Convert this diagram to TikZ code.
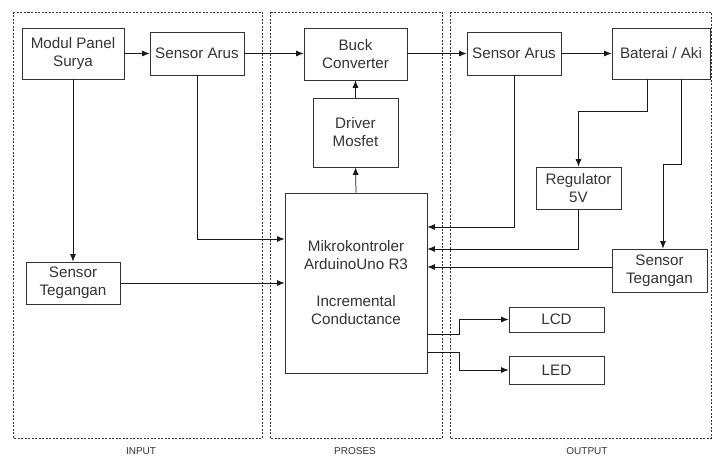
\documentclass[tikz,border=0pt]{standalone}
\usepackage{fontspec}
\setmainfont{Liberation Sans}
\usetikzlibrary{arrows.meta}
\definecolor{ink}{HTML}{333333}
\tikzset{
  box/.style={draw=ink, line width=0.8pt, text=ink, align=center, inner sep=1pt,
    font=\fontsize{15.2}{18}\selectfont, anchor=center},
  arr/.style={draw=black!90, line width=0.75pt, -{Latex[length=7.5pt,width=6pt]}},
  grp/.style={draw=black!80, line width=0.7pt, dash pattern=on 2pt off 1.5pt},
  glabel/.style={text=ink, font=\fontsize{10}{12}\selectfont}
}
\begin{document}
\begin{tikzpicture}[x=1pt,y=-1pt]
\useasboundingbox (0,0) rectangle (712,457);
% group frames
\draw[grp] (13,12) rectangle (262,438);
\draw[grp] (270,12) rectangle (442,438);
\draw[grp] (450,12) rectangle (711,438);
\node[glabel] (lin) at (141,451) {INPUT};
\node[glabel] (lpr) at (355,451) {PROSES};
\node[glabel] (lout) at (587,451) {OUTPUT};
% nodes
\node[box, minimum width=102pt, minimum height=51pt] (pv) at (73,53.5) {Modul Panel\\Surya};
\node[box, minimum width=94pt, minimum height=43pt] (sa1) at (197,53.5) {Sensor Arus};
\node[box, minimum width=103pt, minimum height=52pt] (buck) at (355.5,54) {Buck\\Converter};
\node[box, minimum width=85pt, minimum height=69pt] (drv) at (355.5,132.5) {Driver\\Mosfet};
\node[box, minimum width=142pt, minimum height=180pt] (mcu) at (356,283) {Mikrokontroler\\ArduinoUno R3\\[19pt]Incremental\\Conductance};
\node[box, minimum width=94pt, minimum height=43pt] (sa2) at (514,53.5) {Sensor Arus};
\node[box, minimum width=98pt, minimum height=51pt] (bat) at (661,53.5) {Baterai / Aki};
\node[box, minimum width=85pt, minimum height=42pt] (reg) at (578.5,188) {Regulator\\5V};
\node[box, minimum width=95pt, minimum height=43pt] (st2) at (659.5,270.5) {Sensor\\Tegangan};
\node[box, minimum width=94pt, minimum height=42pt] (st1) at (73,283) {Sensor\\Tegangan};
\node[box, minimum width=95pt, minimum height=25pt] (lcd) at (556.5,319.5) {LCD};
\node[box, minimum width=95pt, minimum height=28pt] (led) at (556.5,370) {LED};
% helper coordinates on MCU (yshift is upward)
\coordinate (mw1) at ([yshift=44pt]mcu.west);
\coordinate (me1) at ([yshift=56pt]mcu.east);
\coordinate (me2) at ([yshift=34pt]mcu.east);
\coordinate (me3) at ([yshift=16pt]mcu.east);
\coordinate (me4) at ([yshift=-51pt]mcu.east);
\coordinate (me5) at ([yshift=-69pt]mcu.east);
% connectors
\draw[arr] (pv.east) -- (sa1.west);
\draw[arr] (sa1.east) -- (buck.west |- sa1.east);
\draw[arr] (buck.east |- sa2.west) -- (sa2.west);
\draw[arr] (sa2.east) -- (bat.west);
\draw[arr] (pv.south) -- (st1.north);
\draw[arr] (sa1.south) |- (mw1);
\draw[arr] (st1.east) -- (mcu.west |- st1.east);
\draw[arr] (mcu.north) -- (drv.south);
\draw[arr] (drv.north) -- (buck.south);
\draw[arr] (sa2.south) |- (me1);
\draw[arr] ([xshift=-14pt]bat.south) -- ++(0,32) -| (reg.north);
\draw[arr] ([xshift=20pt]bat.south) -- ++(0,85) -| ([xshift=3.5pt]st2.north);
\draw[arr] (reg.south) |- (me2);
\draw[arr] (st2.west |- me3) -- (me3);
\draw[arr] (me4) -- ++(32,0) |- (lcd.west);
\draw[arr] (me5) -- ++(32,0) |- (led.west);
\end{tikzpicture}
\end{document}
